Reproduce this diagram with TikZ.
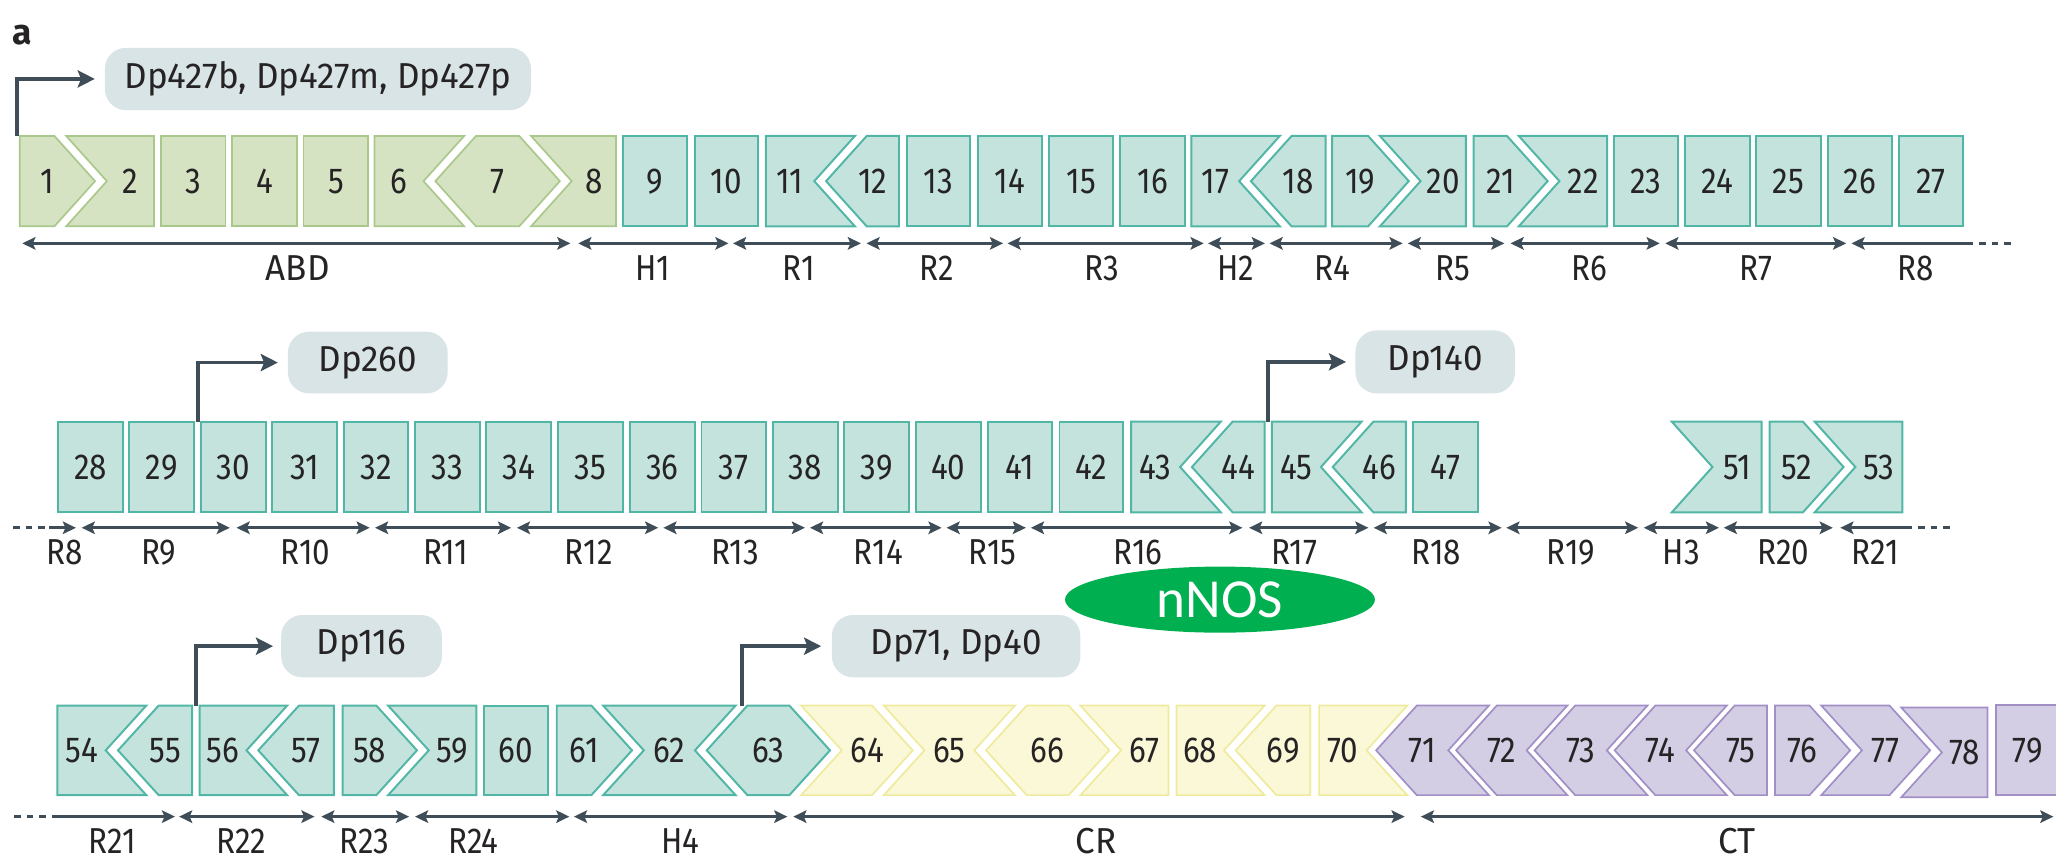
\documentclass[tikz,border=0pt]{standalone}
\usepackage{fontspec}
\setmainfont{Fira Sans}[FakeStretch=0.87]
\newfontfamily\widefont{Fira Sans}[FakeStretch=0.97]
\newfontfamily\nnosfont{Carlito}
\newfontfamily\panelfont{Fira Sans}
\usetikzlibrary{arrows.meta,shapes.geometric}

\definecolor{abdfill}{HTML}{D6E3C3}
\definecolor{abddraw}{HTML}{A9C98C}
\definecolor{tealfill}{HTML}{C3E3DC}
\definecolor{tealdraw}{HTML}{52B6A6}
\definecolor{crfill}{HTML}{FAF8D6}
\definecolor{crdraw}{HTML}{EEEA9E}
\definecolor{ctfill}{HTML}{D3CEE4}
\definecolor{ctdraw}{HTML}{A28FC6}
\definecolor{promfill}{HTML}{D9E4E7}
\definecolor{arrowcol}{HTML}{3E4D57}
\definecolor{nnosgreen}{HTML}{00B050}
\definecolor{txt}{HTML}{262324}

\tikzset{
  exABD/.style={fill=abdfill,draw=abddraw,line width=1.3pt},
  exTeal/.style={fill=tealfill,draw=tealdraw,line width=1.5pt},
  exCR/.style={fill=crfill,draw=crdraw,line width=1.3pt},
  exCT/.style={fill=ctfill,draw=ctdraw,line width=1.3pt},
  numtxt/.style={font=\fontsize{27.5}{30}\selectfont,text=txt,anchor=base,inner sep=0pt},
  lbl/.style={numtxt},
  domarr/.style={draw=arrowcol,line width=2pt,
    {Stealth[length=10pt,width=9.5pt,inset=2pt]}-{Stealth[length=10pt,width=9.5pt,inset=2pt]}},
  domleft/.style={draw=arrowcol,line width=2pt,{Stealth[length=10pt,width=9.5pt,inset=2pt]}-},
  domright/.style={draw=arrowcol,line width=2pt,-{Stealth[length=10pt,width=9.5pt,inset=2pt]}},
  domdash/.style={draw=arrowcol,line width=2pt,dash pattern=on 5pt off 4.5pt},
  prombox/.style={fill=promfill,rounded corners=16pt,inner sep=0pt,
    font=\widefont\fontsize{27.5}{30}\selectfont,text=txt},
  promarr/.style={draw=arrowcol,line width=2.8pt,-{Stealth[length=13pt,width=13pt,inset=2.5pt]}},
  nnosnode/.style={ellipse,fill=nnosgreen,inner sep=0pt,text=white,
    font=\nnosfont\fontsize{42}{44}\selectfont},
}

% exon: style, number, xl, xl-mid, xr, xr-mid
\newcommand\exon[6]{%
  \pgfmathsetmacro\exM{(\rowT+\rowB)/2}%
  \pgfmathsetmacro\exL{max(#4,(#3+#4)/2)}%
  \pgfmathsetmacro\exR{min(#6,(#5+#6)/2)}%
  \path[#1] (#3,\rowT) -- (#5,\rowT) -- (#6,\exM) -- (#5,\rowB) -- (#3,\rowB) -- (#4,\exM) -- cycle;
  \node[numtxt] (e#2) at ({(\exL+\exR)/2},{\exM+9.4}) {#2};
}
% domain arrow: name, x1, x2, y, label, label x
\newcommand\dom[6]{%
  \coordinate (#1s) at (#2,#4);
  \coordinate (#1e) at (#3,#4);
  \draw[domarr] (#1s) -- (#1e);
  \node[lbl] (#1l) at (#6,#4+28) {#5};
}

\begin{document}
\begin{tikzpicture}[x=1pt,y=-1pt]
\useasboundingbox (0,0) rectangle (1568,656);
\clip (0,0) rectangle (1568,656);

\node[anchor=base,inner sep=0pt,text=txt,font=\panelfont\bfseries\fontsize{27}{29}\selectfont] (panel) at (17,34.3) {a};

% ---------------- Row 1 ----------------
\def\rowT{103.7}\def\rowB{172.6}
\exon{exABD}{1}{15}{15}{41.5}{72.5}
\exon{exABD}{2}{50.5}{81.5}{117.4}{117.4}
\exon{exABD}{3}{122.6}{122.6}{171.9}{171.9}
\exon{exABD}{4}{177.1}{177.1}{226.4}{226.4}
\exon{exABD}{5}{231.5}{231.5}{280.8}{280.8}
\exon{exABD}{6}{285.6}{285.6}{354}{323}
\exon{exABD}{7}{363}{332}{396}{427}
\exon{exABD}{8}{405}{436}{469.8}{469.8}
\exon{exTeal}{9}{475.3}{475.3}{523.9}{523.9}
\exon{exTeal}{10}{529.7}{529.7}{578.4}{578.4}
\exon{exTeal}{11}{584.1}{584.1}{652}{621}
\exon{exTeal}{12}{661}{630}{685.6}{685.6}
\exon{exTeal}{13}{691.5}{691.5}{740.1}{740.1}
\exon{exTeal}{14}{745.9}{745.9}{794.6}{794.6}
\exon{exTeal}{15}{800}{800}{849.1}{849.1}
\exon{exTeal}{16}{854.5}{854.5}{903.5}{903.5}
\exon{exTeal}{17}{908.6}{908.6}{976}{945}
\exon{exTeal}{18}{985}{954}{1010.9}{1010.9}
\exon{exTeal}{19}{1016}{1016}{1043.4}{1074.4}
\exon{exTeal}{20}{1052.4}{1083.4}{1118}{1118}
\exon{exTeal}{21}{1123.8}{1123.8}{1149.3}{1180.3}
\exon{exTeal}{22}{1158.3}{1189.3}{1225.7}{1225.7}
\exon{exTeal}{23}{1230.8}{1230.8}{1279.9}{1279.9}
\exon{exTeal}{24}{1285.4}{1285.4}{1334.3}{1334.3}
\exon{exTeal}{25}{1339.4}{1339.4}{1388.5}{1388.5}
\exon{exTeal}{26}{1394}{1394}{1442.6}{1442.6}
\exon{exTeal}{27}{1448}{1448}{1497}{1497}

\dom{dABD}{17}{435}{185.6}{\widefont ABD}{227}
\dom{dHa}{441}{555.6}{185.6}{H1}{498}
\dom{dRa}{559}{656.6}{185.6}{R1}{609}
\dom{dRb}{660.8}{765}{185.6}{R2}{714.6}
\dom{dRc}{768.4}{918}{185.6}{R3}{840}
\dom{dHb}{921.3}{964.7}{185.6}{H2}{942.6}
\dom{dRd}{968.2}{1069.7}{185.6}{R4}{1016}
\dom{dRe}{1073.6}{1147.3}{185.6}{R5}{1108}
\dom{dRf}{1152}{1265.8}{185.6}{R6}{1212}
\dom{dRg}{1270}{1408}{185.6}{R7}{1339}
\coordinate (dRhs) at (1412,185.6);
\coordinate (dRhe) at (1500,185.6);
\coordinate (dRhd) at (1534,185.6);
\draw[domleft] (dRhs) -- (dRhe);
\draw[domdash] (dRhe) -- (dRhd);
\node[lbl] (dRhl) at (1461,213.6) {R8};

\node[prombox,minimum width=325pt,minimum height=47.5pt] (p427) at (242.5,60.2) {Dp427b, Dp427m, Dp427p};
\coordinate (p427o) at (12.9,103.7);
\draw[promarr] (p427o) |- ([xshift=-7.5pt]p427.west);

% ---------------- Row 2 ----------------
\def\rowT{321.6}\def\rowB{390.7}
\exon{exTeal}{28}{44.3}{44.3}{93.6}{93.6}
\exon{exTeal}{29}{98.7}{98.7}{148}{148}
\exon{exTeal}{30}{153.2}{153.2}{202.5}{202.5}
\exon{exTeal}{31}{207.6}{207.6}{257}{257}
\exon{exTeal}{32}{262.1}{262.1}{311.5}{311.5}
\exon{exTeal}{33}{316.6}{316.6}{366}{366}
\exon{exTeal}{34}{371}{371}{420.4}{420.4}
\exon{exTeal}{35}{425.5}{425.5}{474.9}{474.9}
\exon{exTeal}{36}{480.5}{480.5}{529.7}{529.7}
\exon{exTeal}{37}{535}{535}{584}{584}
\exon{exTeal}{38}{589.2}{589.2}{638.8}{638.8}
\exon{exTeal}{39}{643.9}{643.9}{693.4}{693.4}
\exon{exTeal}{40}{698.5}{698.5}{747.9}{747.9}
\exon{exTeal}{41}{753.2}{753.2}{802.5}{802.5}
\exon{exTeal}{42}{808}{808}{856.6}{856.6}
\exon{exTeal}{43}{862.7}{862.7}{931}{900}
\exon{exTeal}{44}{940}{909}{964.4}{964.4}
\exon{exTeal}{45}{970}{970}{1038.4}{1007.4}
\exon{exTeal}{46}{1047.4}{1016.4}{1072.2}{1072.2}
\exon{exTeal}{47}{1077.9}{1077.9}{1127.2}{1127.2}
\exon{exTeal}{51}{1275}{1306}{1343.4}{1343.4}
\exon{exTeal}{52}{1349.6}{1349.6}{1375}{1406}
\exon{exTeal}{53}{1384}{1415}{1450.8}{1450.8}

\coordinate (dSad) at (10,402.5);
\coordinate (dSas) at (37.4,402.5);
\coordinate (dSae) at (57.9,402.5);
\draw[domdash] (dSad) -- (dSas);
\draw[domright] (dSas) -- (dSae);
\node[lbl] (dSal) at (49,430.5) {R8};
\dom{dSb}{62.3}{175.3}{402.5}{R9}{121}
\dom{dSc}{180.4}{282}{402.5}{R10}{233}
\dom{dSd}{286}{389.8}{402.5}{R11}{340}
\dom{dSe}{394.2}{502}{402.5}{R12}{449}
\dom{dSf}{505.9}{613.9}{402.5}{R13}{560.5}
\dom{dSg}{617.7}{718.1}{402.5}{R14}{669.8}
\dom{dSh}{721.9}{782.4}{402.5}{R15}{757}
\dom{dSi}{786.2}{947.5}{402.5}{R16}{867.8}
\dom{dSj}{952.6}{1043.6}{402.5}{R17}{987}
\dom{dSk}{1047.6}{1145.2}{402.5}{R18}{1095.4}
\dom{dSl}{1148.8}{1249.4}{402.5}{R19}{1198}
\dom{dSm}{1253.6}{1311}{402.5}{H3}{1282.3}
\dom{dSn}{1314.6}{1397.8}{402.5}{R20}{1360}
\coordinate (dSos) at (1403.5,402.5);
\coordinate (dSoe) at (1453.3,402.5);
\coordinate (dSod) at (1488,402.5);
\draw[domleft] (dSos) -- (dSoe);
\draw[domdash] (dSoe) -- (dSod);
\node[lbl] (dSol) at (1430,430.5) {R21};

\node[prombox,minimum width=121.8pt,minimum height=47pt] (p260) at (280.5,276.5) {Dp260};
\coordinate (p260o) at (150.8,321.6);
\draw[promarr] (p260o) |- ([xshift=-7.5pt]p260.west);
\node[prombox,minimum width=121.7pt,minimum height=48pt] (p140) at (1094.6,276) {Dp140};
\coordinate (p140o) at (967,321.6);
\draw[promarr] (p140o) |- ([xshift=-7pt]p140.west);

\node[nnosnode,minimum width=236.4pt,minimum height=50.4pt] (nnos) at (930.4,457.3) {nNOS};

% ---------------- Row 3 ----------------
\def\rowT{538.1}\def\rowB{606.4}
\exon{exTeal}{54}{43.8}{43.8}{111.6}{80.6}
\exon{exTeal}{55}{121}{90}{146.6}{146.6}
\exon{exTeal}{56}{152.3}{152.3}{219}{188}
\exon{exTeal}{57}{228}{197}{254.7}{254.7}
\exon{exTeal}{58}{261.3}{261.3}{287}{318}
\exon{exTeal}{59}{296}{327}{363.3}{363.3}
\exon{exTeal}{60}{369}{369}{418}{418}
\exon{exTeal}{61}{424.6}{424.6}{451}{482}
\exon{exTeal}{62}{460}{491}{561}{530}
\exon{exTeal}{63}{570}{539}{602}{633}
\exon{exCR}{64}{611}{642}{665.1}{696.1}
\exon{exCR}{65}{674}{705}{774}{743}
\exon{exCR}{66}{783}{752}{815}{846}
\exon{exCR}{67}{824}{855}{891.1}{891.1}
\exon{exCR}{68}{897.2}{897.2}{964.4}{933.4}
\exon{exCR}{69}{973.4}{942.4}{999.2}{999.2}
\exon{exCR}{70}{1006}{1006}{1073.2}{1042.2}
\exon{exCT}{71}{1080.5}{1049.5}{1135.5}{1104.5}
\exon{exCT}{72}{1141.5}{1110.5}{1195.3}{1164.3}
\exon{exCT}{73}{1201.3}{1170.3}{1256.4}{1225.4}
\exon{exCT}{74}{1262.4}{1231.4}{1316.9}{1285.9}
\exon{exCT}{75}{1322.9}{1291.9}{1347.5}{1347.5}
\exon{exCT}{76}{1353.6}{1353.6}{1380}{1411}
\exon{exCT}{77}{1389}{1420}{1441}{1472}
\def\rowT{539.6}\def\rowB{608}
\exon{exCT}{78}{1450}{1481}{1515.7}{1515.7}
\def\rowT{537.9}\def\rowB{606.5}
\exon{exCT}{79}{1522}{1522}{1571}{1571}

\coordinate (dTad) at (11,622.8);
\coordinate (dTas) at (41.6,622.8);
\coordinate (dTae) at (133.5,622.8);
\draw[domdash] (dTad) -- (dTas);
\draw[domright] (dTas) -- (dTae);
\node[lbl] (dTal) at (85.4,650.8) {R21};
\dom{dTb}{136.6}{239.9}{622.8}{R22}{184}
\dom{dTc}{245}{312}{622.8}{R23}{278}
\dom{dTd}{316.5}{434.2}{622.8}{R24}{361}
\dom{dTe}{437.7}{600.5}{622.8}{H4}{518.7}
\dom{dTf}{605}{1071.3}{622.8}{\widefont CR}{836}
\dom{dTg}{1083.6}{1566}{622.8}{\widefont CT}{1325}

\node[prombox,minimum width=122.5pt,minimum height=47.5pt] (p116) at (275.7,492.8) {Dp116};
\coordinate (p116o) at (149.7,538.1);
\draw[promarr] (p116o) |- ([xshift=-6pt]p116.west);
\node[prombox,minimum width=189.5pt,minimum height=47.5pt] (p71) at (729.2,492.8) {Dp71, Dp40};
\coordinate (p71o) at (566,538.1);
\draw[promarr] (p71o) |- ([xshift=-8pt]p71.west);
\end{tikzpicture}
\end{document}
